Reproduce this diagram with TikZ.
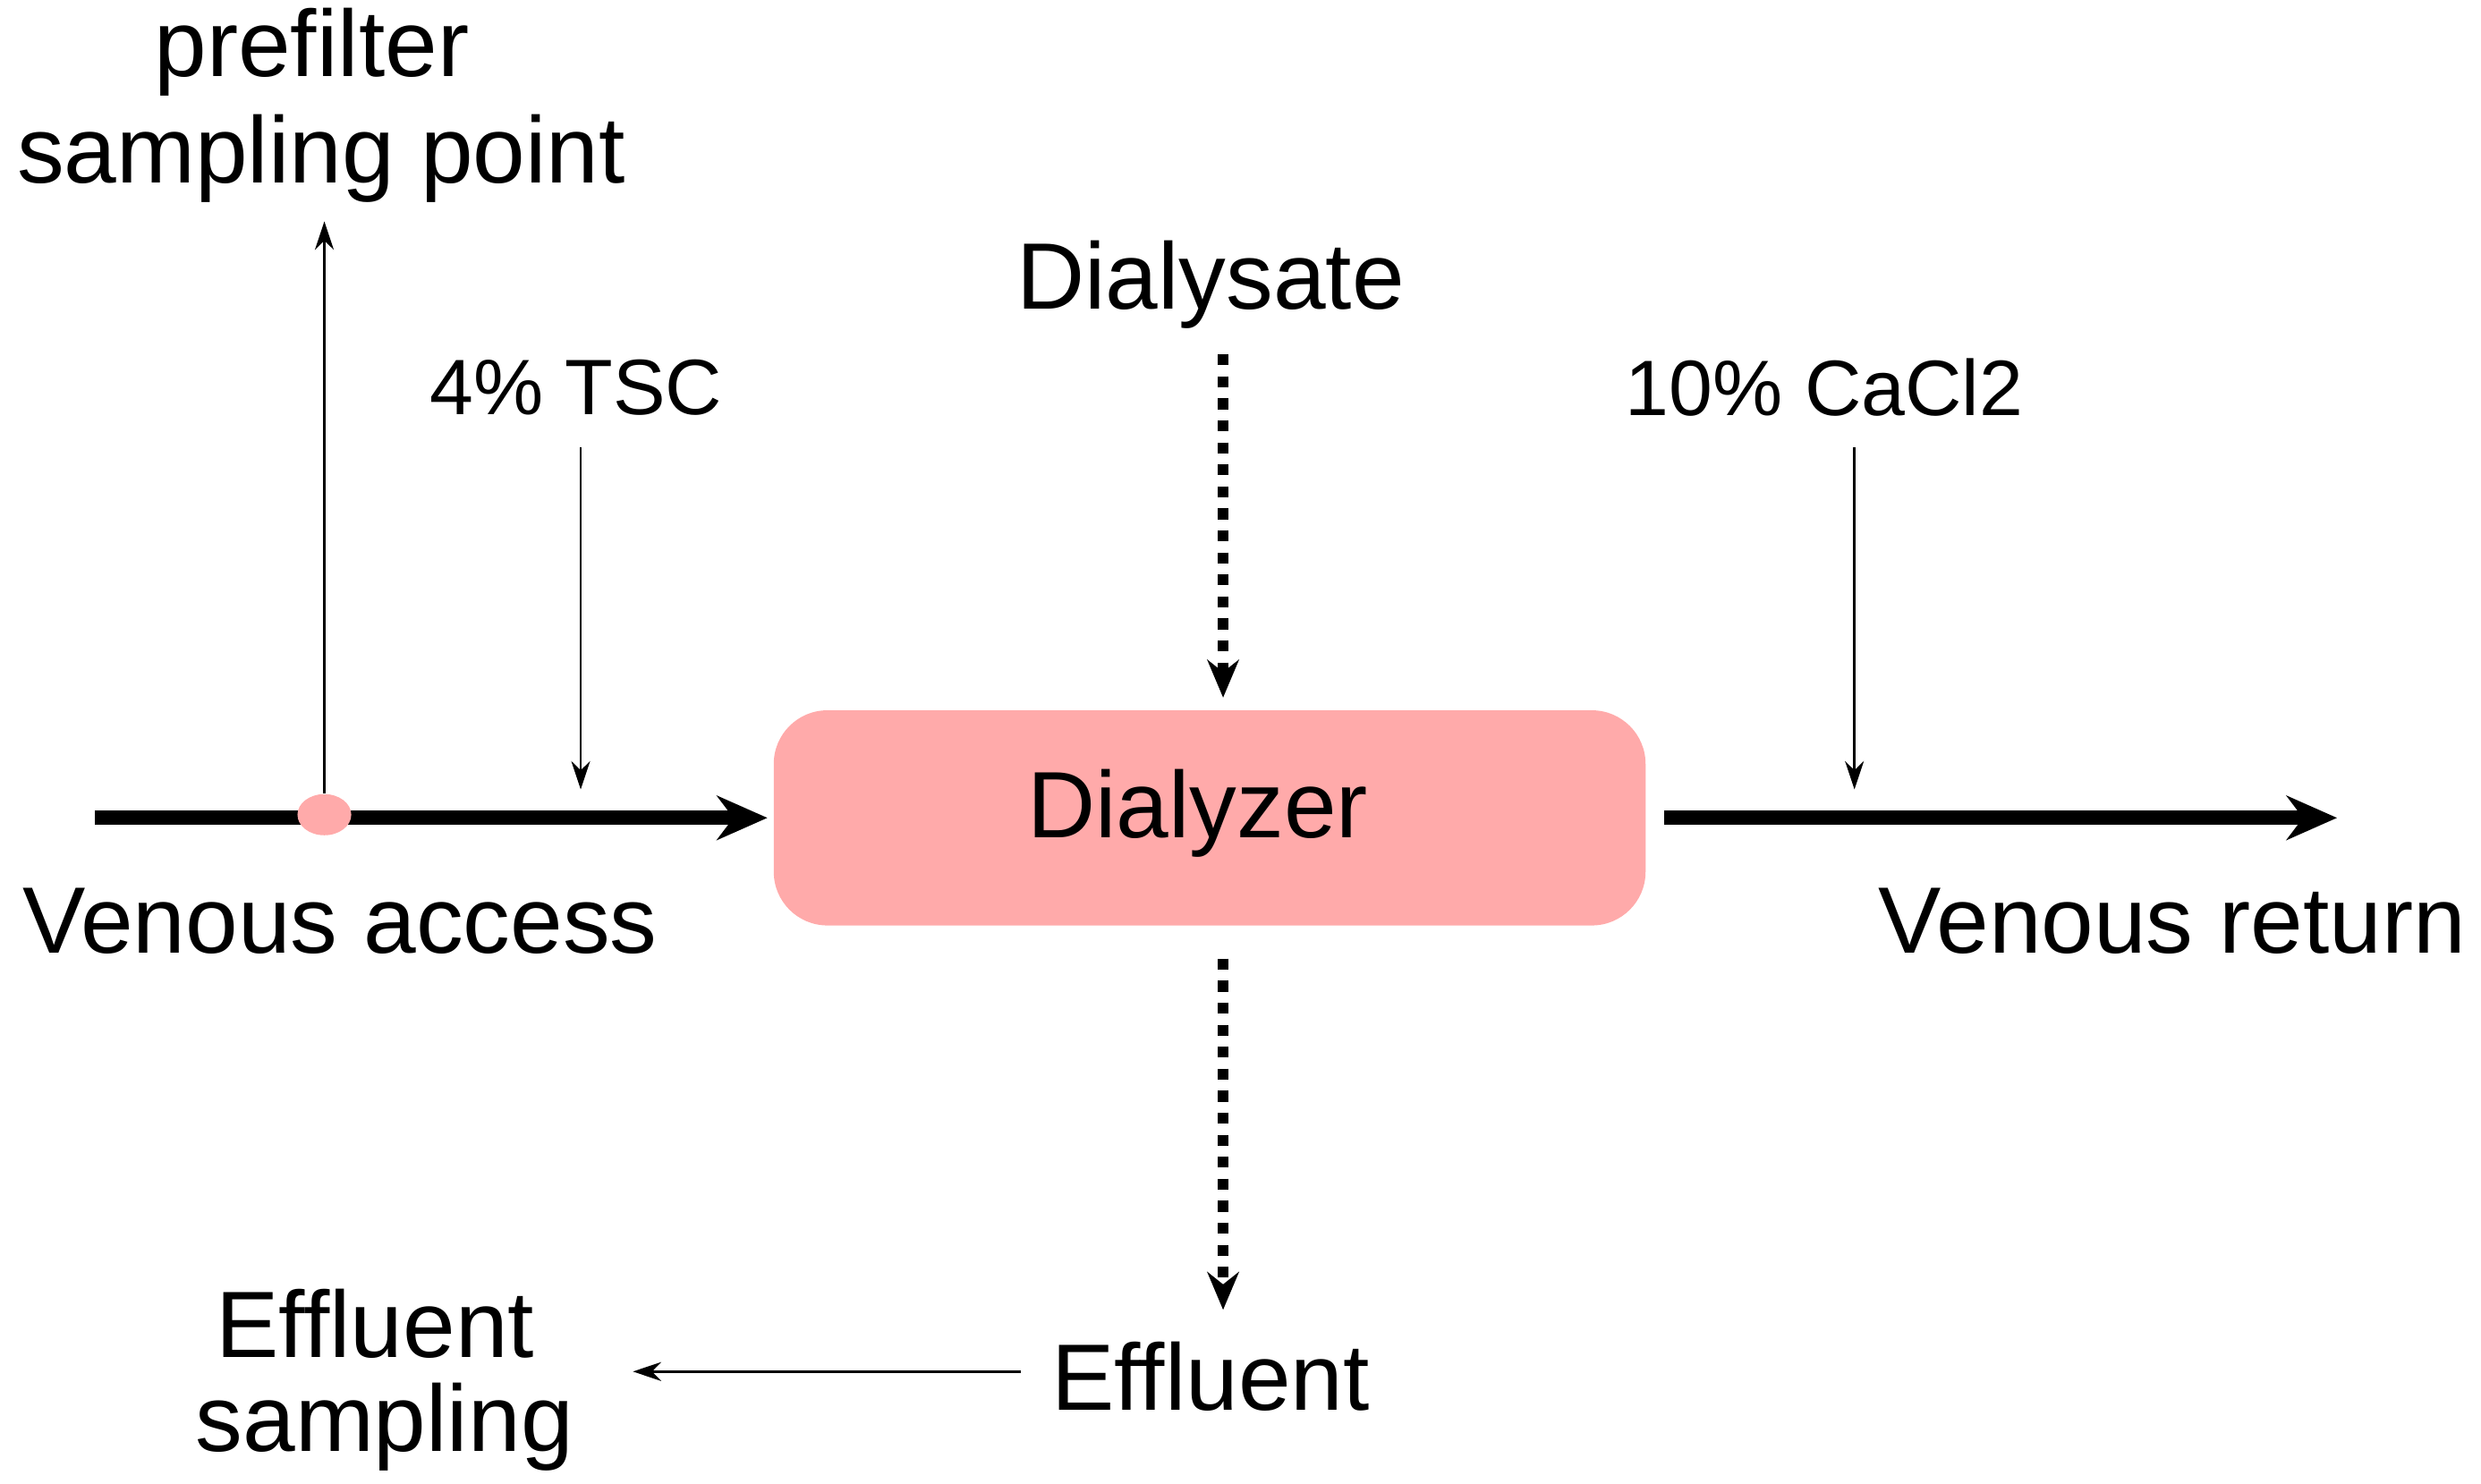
\documentclass[tikz,border=0pt]{standalone}
\usepackage{fontspec}
\setmainfont{Liberation Sans}
\usetikzlibrary{arrows.meta,shapes.geometric}
\definecolor{pinkbox}{RGB}{255,170,170}
\begin{document}
\begin{tikzpicture}[x=0.01768cm,y=-0.01768cm,
  big/.style={font=\fontsize{30}{34}\selectfont,inner sep=0},
  mid/.style={font=\fontsize{25}{30}\selectfont,inner sep=0},
  thin/.style={line width=0.7pt,-{Stealth[length=9pt,width=6pt]}},
  thick/.style={line width=4.5pt,-{Stealth[length=16pt,width=14pt]}},
  dots/.style={line width=3.2pt,dash pattern=on 3.5pt off 3.5pt,-{Stealth[length=12pt,width=10pt]}}]
\useasboundingbox (0,0) rectangle (1568,938);
\node[draw=none,fill=pinkbox,rounded corners=0.6cm,minimum width=551*0.01768cm,minimum height=136*0.01768cm,inner sep=0] (dz) at (764.5,517) {};
\node[big] at (757,514) {Dialyzer};
\coordinate (la) at (60,517);
\coordinate (lb) at (485,517);
\draw[thick] (la) -- (lb);
\coordinate (ra) at (1052,517);
\coordinate (rb) at (1477,517);
\draw[thick] (ra) -- (rb);
\node[fill=pinkbox,ellipse,minimum width=34*0.01768cm,minimum height=26*0.01768cm,inner sep=0] (dot) at (205,515) {};
\node[big] (pf1) at (197,33) {prefilter};
\node[big] (pf2) at (203,100) {sampling point};
\coordinate (pft) at (205,140);
\draw[thin] (dot.north) -- (pft);
\node[mid] (tsc) at (364,245) {4\% TSC};
\coordinate (tsct) at (367,283);
\coordinate (tscb) at (367,499);
\draw[thin] (tsct) -- (tscb);
\node[mid] (ca) at (1153,245) {10\% CaCl2};
\coordinate (cat) at (1172,283);
\coordinate (cab) at (1172,499);
\draw[thin] (cat) -- (cab);
\node[big] (ds) at (765,180) {Dialysate};
\coordinate (dst) at (773,224);
\coordinate (dsb) at (773,441);
\draw[dots] (dst) -- (dsb);
\coordinate (eft) at (773,606);
\coordinate (efb) at (773,828);
\draw[dots] (eft) -- (efb);
\node[big] (va) at (215,582) {Venous access};
\node[big] (vr) at (1373,582) {Venous return};
\node[big] (ef) at (765,870) {Effluent};
\node[big] (es1) at (237,837) {Effluent};
\node[big] (es2) at (243,902) {sampling};
\coordinate (ea) at (645,867);
\coordinate (eb) at (400,867);
\draw[thin] (ea) -- (eb);
\end{tikzpicture}
\end{document}
